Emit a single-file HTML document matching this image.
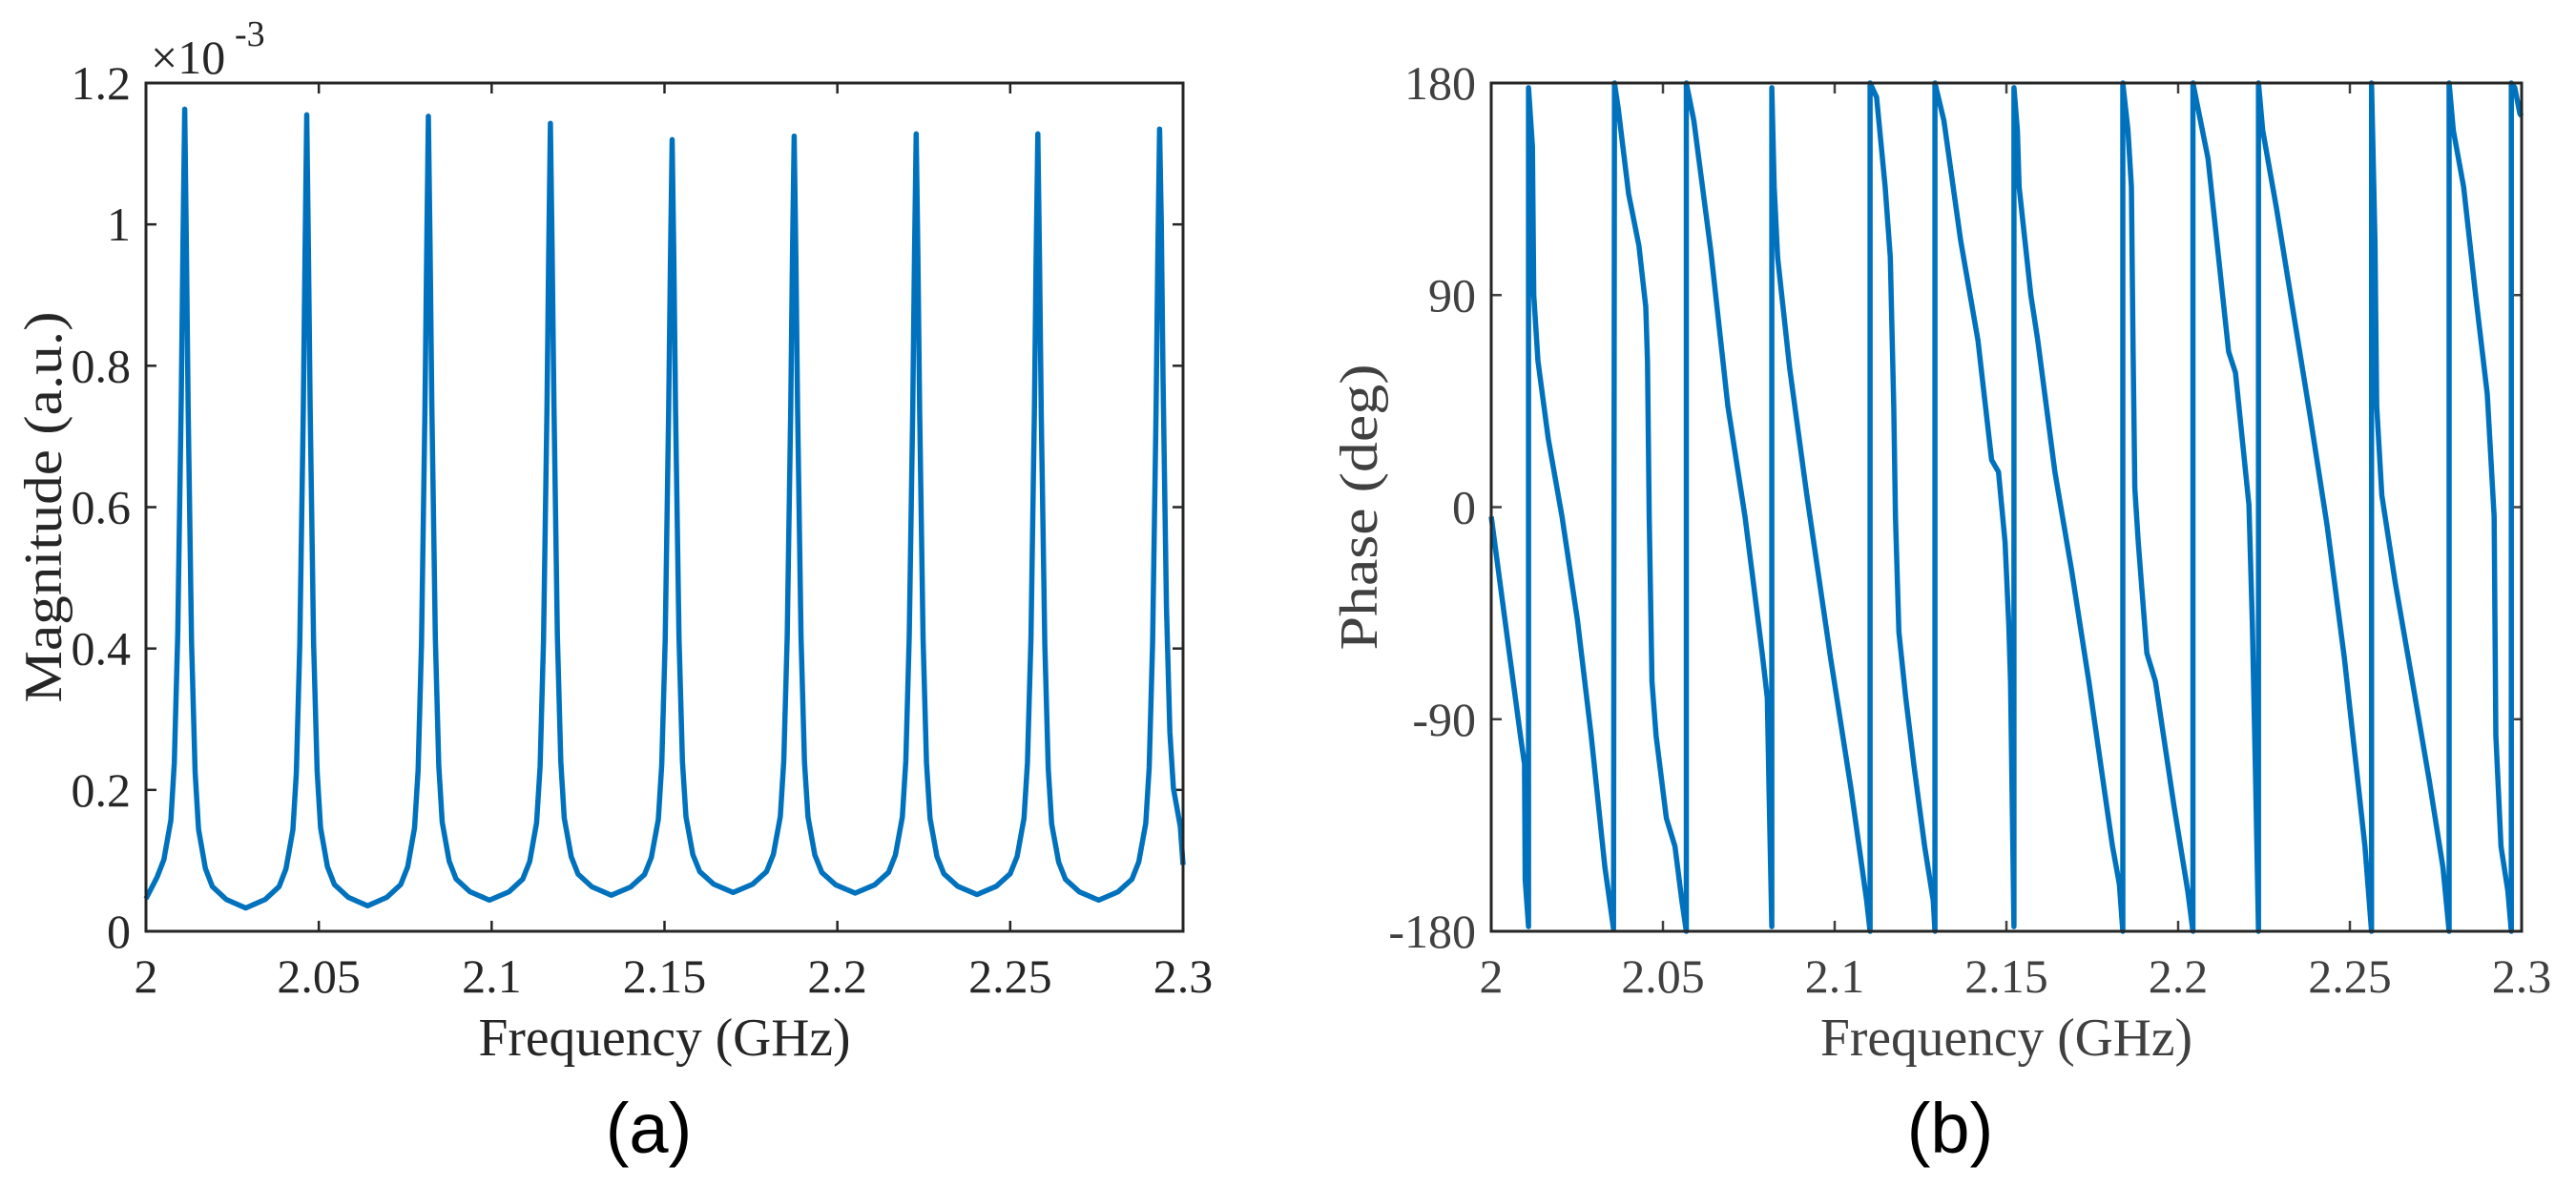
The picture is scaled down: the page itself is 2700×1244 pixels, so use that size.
<!DOCTYPE html>
<html><head><meta charset="utf-8"><style>
html,body{margin:0;padding:0;background:#fff;}
svg{display:block;}
</style></head><body>
<svg id="fig" width="2700" height="1244" viewBox="0 0 2700 1244" xmlns="http://www.w3.org/2000/svg">
<rect width="2700" height="1244" fill="#fff"/>
<g id="left"></g>
<g id="right"></g>
<text x="680" y="1208" font-family="Liberation Sans, sans-serif" font-size="74" text-anchor="middle" fill="#000">(a)</text>
<text x="2044" y="1208" font-family="Liberation Sans, sans-serif" font-size="74" text-anchor="middle" fill="#000">(b)</text>
</svg>
<script>
// ---- magnitude data (units 1e-3) ----
const xTicks = [2, 2.05, 2.1, 2.15, 2.2, 2.25, 2.3];
const xTickLabels = ["2", "2.05", "2.1", "2.15", "2.2", "2.25", "2.3"];
const magTicks = [0, 0.2, 0.4, 0.6, 0.8, 1, 1.2];
const magTickLabels = ["0", "0.2", "0.4", "0.6", "0.8", "1", "1.2"];
const peakFreq = [2.0112, 2.0465, 2.0817, 2.1170, 2.1522, 2.1875, 2.2228, 2.2580, 2.2932];
const peakMag = [1.163, 1.155, 1.153, 1.143, 1.120, 1.125, 1.128, 1.128, 1.135];
const valleyMag = [0.033, 0.036, 0.044, 0.051, 0.055, 0.054, 0.052, 0.044];
const startMag = 0.046;
const endMag = 0.094;
const profileOffset = [0.012, 0.008, 0.006, 0.004, 0.003, 0.002, 0.001, 0.0005];
const profileRise = [0.012, 0.03, 0.055, 0.11, 0.19, 0.37, 0.70, 0.92];

// ---- phase data (deg) ----
const phaseTicks = [-180, -90, 0, 90, 180];
const phaseTickLabels = ["-180", "-90", "0", "90", "180"];
const phaseFreq = [2.0,2.0052,2.0087,2.0097,2.0099,2.01086,2.01086,2.0120,2.0124,2.0136,2.0166,2.0206,2.0251,2.0291,2.0331,2.0356,2.0359,2.0370,2.0400,2.0430,2.0450,2.0455,2.0460,2.0468,2.0480,2.0510,2.0535,2.0555,2.0568,2.0568,2.0590,2.0640,2.0689,2.0739,2.0759,2.0789,2.0804,2.0809,2.0817,2.0817,2.0824,2.0834,2.0869,2.0918,2.0988,2.1048,2.1093,2.1103,2.1103,2.1122,2.1147,2.1162,2.1172,2.1177,2.1187,2.1207,2.1232,2.1262,2.1287,2.1292,2.1292,2.1318,2.1367,2.1417,2.1457,2.1477,2.1496,2.1507,2.1512,2.1522,2.1522,2.1532,2.1537,2.1571,2.1591,2.1641,2.1690,2.1740,2.1790,2.1809,2.1829,2.1839,2.1839,2.1854,2.1864,2.1869,2.1874,2.1884,2.1909,2.1934,2.1988,2.2028,2.2043,2.2043,2.2087,2.2147,2.2167,2.2206,2.2216,2.2226,2.2234,2.2234,2.2246,2.2286,2.2335,2.2385,2.2434,2.2484,2.2514,2.2544,2.2563,2.2563,2.2573,2.2578,2.2593,2.2632,2.2682,2.2731,2.2771,2.2789,2.2789,2.2801,2.2831,2.2866,2.2900,2.2920,2.2925,2.2940,2.2960,2.2970,2.2970,2.2980,2.2995,2.3];
const phaseDeg = [-4,-61,-99,-109,-158,-178,178,153,90,62,29,-4,-48,-97,-153,-179,180,169,133,111,85,62,-4,-74,-97,-132,-144,-167,-180,180,164,108,43,-4,-27,-62,-81,-120,-178,178,136,106,59,6,-64,-120,-167,-180,180,174,136,106,43,-4,-53,-81,-111,-144,-167,-180,180,164,113,71,20,15,-15,-50,-74,-178,178,160,136,90,71,15,-27,-74,-125,-144,-160,-180,180,160,136,66,8,-15,-62,-74,-127,-163,-180,180,148,66,57,1,-50,-120,-180,180,160,127,83,38,-8,-64,-104,-144,-180,180,113,43,5,-32,-74,-116,-153,-180,180,160,136,90,48,-4,-97,-144,-163,-180,180,178,167,166];

const NS = "http://www.w3.org/2000/svg";
const SERIF = "Liberation Serif, serif";
function mk(parent, tag, attrs, text) {
  const e = document.createElementNS(NS, tag);
  for (const k in attrs) e.setAttribute(k, attrs[k]);
  if (text !== undefined) e.textContent = text;
  parent.appendChild(e);
  return e;
}

function drawAxes(g, L, R, T, B, yTicks, yLabels, yMin, yMax, col, yTitle, yTitleX, yTitleLen) {
  const sx = f => L + (f - 2) / 0.3 * (R - L);
  const sy = v => B - (v - yMin) / (yMax - yMin) * (B - T);
  xTicks.forEach((t, i) => {
    const x = sx(t);
    const tk = mk(g, "line", {x1: x, x2: x, y1: B, y2: B - 11, stroke: col, "stroke-width": 2.5});
    
    
    const tk2 = mk(g, "line", {x1: x, x2: x, y1: T, y2: T + 11, stroke: col, "stroke-width": 2.5});
    
    
    const lb = mk(g, "text", {x: x, y: B + 64, "font-family": SERIF, "font-size": 50, "text-anchor": "middle", fill: col}, xTickLabels[i]);
    
    
  });
  yTicks.forEach((t, i) => {
    const y = sy(t);
    const tk = mk(g, "line", {x1: L, x2: L + 11, y1: y, y2: y, stroke: col, "stroke-width": 2.5});
    
    
    const tk2 = mk(g, "line", {x1: R, x2: R - 11, y1: y, y2: y, stroke: col, "stroke-width": 2.5});
    
    
    const lb = mk(g, "text", {x: L - 16, y: y + 17, "font-family": SERIF, "font-size": 50, "text-anchor": "end", fill: col}, yLabels[i]);
    
    
  });
  const xt = mk(g, "text", {x: (L + R) / 2, y: B + 130, "font-family": SERIF, "font-size": 56, "text-anchor": "middle", fill: col, textLength: 390, lengthAdjust: "spacingAndGlyphs"}, "Frequency (GHz)");
  
  
  const yc = (T + B) / 2;
  const yt = mk(g, "text", {x: yTitleX, y: yc, "font-family": SERIF, "font-size": 56, "text-anchor": "middle", fill: col, transform: `rotate(-90 ${yTitleX} ${yc})`, "dominant-baseline": "central", textLength: yTitleLen, lengthAdjust: "spacingAndGlyphs"}, yTitle);
  
  
  return {sx, sy};
}

// ---- left chart ----
const gL = document.getElementById("left");
const L1 = 153, R1 = 1240, T1 = 87, B1 = 976;
const axL = drawAxes(gL, L1, R1, T1, B1, magTicks, magTickLabels, 0, 1.2, "#262626", "Magnitude (a.u.)", 46, 410);
const exp = mk(gL, "text", {x: 158, y: 77, "font-family": SERIF, "font-size": 50, fill: "#262626"}, "×10");


const expSup = mk(gL, "text", {x: 246, y: 48, "font-family": SERIF, "font-size": 38, fill: "#262626"}, "-3");



const magPts = [[2.0, startMag]];
peakFreq.forEach((c, k) => {
  const baseL = k === 0 ? startMag : valleyMag[k - 1];
  const baseR = k === peakFreq.length - 1 ? endMag : valleyMag[k];
  const scale = (peakMag[k] - 0.04) / 1.11;
  for (let j = 0; j < profileOffset.length; j++) {
    const f = c - profileOffset[j];
    if (f > 2.0) magPts.push([f, baseL + profileRise[j] * scale]);
  }
  magPts.push([c, peakMag[k]]);
  for (let j = profileOffset.length - 1; j >= 0; j--) {
    const f = c + profileOffset[j];
    if (f < 2.3) magPts.push([f, baseR + profileRise[j] * scale]);
  }
  if (k < valleyMag.length) magPts.push([(c + peakFreq[k + 1]) / 2, valleyMag[k]]);
});
magPts.push([2.3, endMag]);
const magLine = mk(gL, "polyline", {points: magPts.map(p => axL.sx(p[0]).toFixed(1) + "," + axL.sy(p[1]).toFixed(1)).join(" "), fill: "none", stroke: "#0072BD", "stroke-width": 5.5, "stroke-linejoin": "round"});


const boxL = mk(gL, "rect", {x: L1, y: T1, width: R1 - L1, height: B1 - T1, fill: "none", stroke: "#262626", "stroke-width": 3});



// ---- right chart ----
const gR = document.getElementById("right");
const L2 = 1563, R2 = 2643, T2 = 87, B2 = 976;
const axR = drawAxes(gR, L2, R2, T2, B2, phaseTicks, phaseTickLabels, -180, 180, "#404040", "Phase (deg)", 1425, 300);
const phLine = mk(gR, "polyline", {points: phaseFreq.map((f, i) => axR.sx(f).toFixed(1) + "," + axR.sy(phaseDeg[i]).toFixed(1)).join(" "), fill: "none", stroke: "#0072BD", "stroke-width": 5.5, "stroke-linejoin": "round"});


const boxR = mk(gR, "rect", {x: L2, y: T2, width: R2 - L2, height: B2 - T2, fill: "none", stroke: "#262626", "stroke-width": 3});


</script>
</body></html>
